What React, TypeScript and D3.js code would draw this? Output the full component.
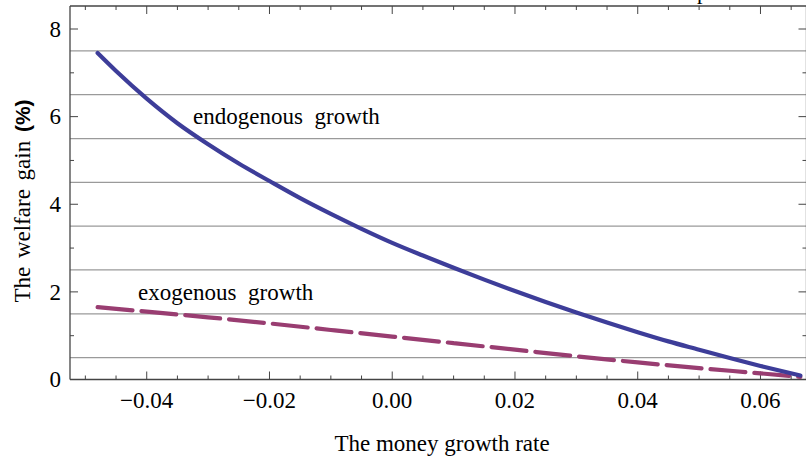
import React from 'react';
import * as d3 from 'd3';

// money growth rate (x) and welfare gains (%)
const endoX = [-0.048, -0.045, -0.04, -0.035, -0.03, -0.025, -0.02, -0.015, -0.01, -0.005, 0, 0.005, 0.01, 0.015, 0.02, 0.025, 0.03, 0.035, 0.04, 0.045, 0.05, 0.055, 0.06, 0.0665];
const endoY = [7.45, 7.04, 6.41, 5.85, 5.37, 4.93, 4.53, 4.14, 3.78, 3.44, 3.12, 2.83, 2.55, 2.28, 2.02, 1.77, 1.53, 1.3, 1.08, 0.87, 0.68, 0.49, 0.31, 0.09];

const exoX = [-0.048, -0.04, -0.03, -0.02, -0.01, 0, 0.01, 0.02, 0.03, 0.04, 0.05, 0.06, 0.0665];
const exoY = [1.65, 1.55, 1.42, 1.28, 1.13, 0.98, 0.83, 0.68, 0.53, 0.39, 0.26, 0.14, 0.06];

const xMajor = [-0.04, -0.02, 0, 0.02, 0.04, 0.06];
const xLabels = ['\u22120.04', '\u22120.02', '0.00', '0.02', '0.04', '0.06'];
const yMajor = [0, 2, 4, 6, 8];
const yMinor = [1, 3, 5, 7];
const yGrid = [0.5, 1.5, 2.5, 3.5, 4.5, 5.5, 6.5, 7.5];

const W = 806;
const H = 459;
const FONT = '"Liberation Serif", "Times New Roman", serif';

export default function App() {
  const x = d3.scaleLinear().domain([-0.0525, 0.0675]).range([70, 806.5]);
  const y = d3.scaleLinear().domain([0, 8.525]).range([379.5, 6]);
  const [x0, x1] = x.range();
  const [y0, y1] = y.range();

  const xMinor = d3.range(-0.05, 0.0676, 0.005).filter(v => !xMajor.some(m => Math.abs(m - v) < 1e-9));

  const line = d3.line<[number, number]>()
    .x(d => x(d[0]))
    .y(d => y(d[1]))
    .curve(d3.curveMonotoneX);

  const endo = line(endoX.map((v, i) => [v, endoY[i]]) as [number, number][]) || '';
  const exo = line(exoX.map((v, i) => [v, exoY[i]]) as [number, number][]) || '';

  return (
    <svg width={W} height={H} style={{ position: 'absolute', left: 0, top: 0, background: '#fff' }} fontFamily={FONT}>
      {/* clipped title fragment at the very top, as in the source */}
      <text x={697} y={-1} fontSize={22}>p</text>

      {yGrid.map(v => (
        <line key={'g' + v} x1={x0} x2={x1} y1={y(v)} y2={y(v)} stroke="#9a9a9a" strokeWidth={1.2} />
      ))}

      {/* frame */}
      <line x1={x0} x2={x1} y1={y0} y2={y0} stroke="#444" strokeWidth={1.3} />
      <line x1={x0} x2={x1} y1={y1} y2={y1} stroke="#444" strokeWidth={1.3} />
      <line x1={x0} x2={x0} y1={y0} y2={y1} stroke="#444" strokeWidth={1.3} />
      <line x1={x1} x2={x1} y1={y0} y2={y1} stroke="#444" strokeWidth={1.3} />

      {/* x ticks bottom and top */}
      {xMajor.map(v => (
        <g key={'xm' + v}>
          <line x1={x(v)} x2={x(v)} y1={y0} y2={y0 - 8} stroke="#444" />
          <line x1={x(v)} x2={x(v)} y1={y1} y2={y1 + 8} stroke="#444" />
        </g>
      ))}
      {xMinor.map(v => (
        <g key={'xn' + v}>
          <line x1={x(v)} x2={x(v)} y1={y0} y2={y0 - 4} stroke="#444" />
          <line x1={x(v)} x2={x(v)} y1={y1} y2={y1 + 4} stroke="#444" />
        </g>
      ))}
      {xMajor.map((v, i) => (
        <text key={'xl' + v} x={x(v)} y={408} fontSize={23} textAnchor="middle">{xLabels[i]}</text>
      ))}

      {/* y ticks */}
      {yMajor.map(v => (
        <g key={'ym' + v}>
          <line x1={x0} x2={x0 + 8} y1={y(v)} y2={y(v)} stroke="#444" />
          <line x1={x1} x2={x1 - 8} y1={y(v)} y2={y(v)} stroke="#444" />
          <text x={61} y={y(v)} dy="0.34em" fontSize={23} textAnchor="end">{v}</text>
        </g>
      ))}
      {yMinor.map(v => (
        <g key={'yn' + v}>
          <line x1={x0} x2={x0 + 4} y1={y(v)} y2={y(v)} stroke="#444" />
          <line x1={x1} x2={x1 - 4} y1={y(v)} y2={y(v)} stroke="#444" />
        </g>
      ))}

      {/* series */}
      <path d={exo} fill="none" stroke="#993d71" strokeWidth={4.2} strokeDasharray="35 9" strokeLinecap="round" />
      <path d={endo} fill="none" stroke="#3d3d99" strokeWidth={4.2} strokeLinecap="round" />

      <text x={193} y={124} fontSize={23} wordSpacing={6}>endogenous growth</text>
      <text x={138} y={300} fontSize={23} wordSpacing={6}>exogenous growth</text>

      {/* axis labels */}
      <text x={442} y={451} fontSize={23} textAnchor="middle">The money growth rate</text>
      <text transform="translate(30,201) rotate(-90)" fontSize={23} textAnchor="middle" wordSpacing={3}>
        The welfare gain <tspan fontFamily='"Liberation Sans", Arial, sans-serif' fontWeight="bold" fontSize={21}>(%)</tspan>
      </text>
    </svg>
  );
}
